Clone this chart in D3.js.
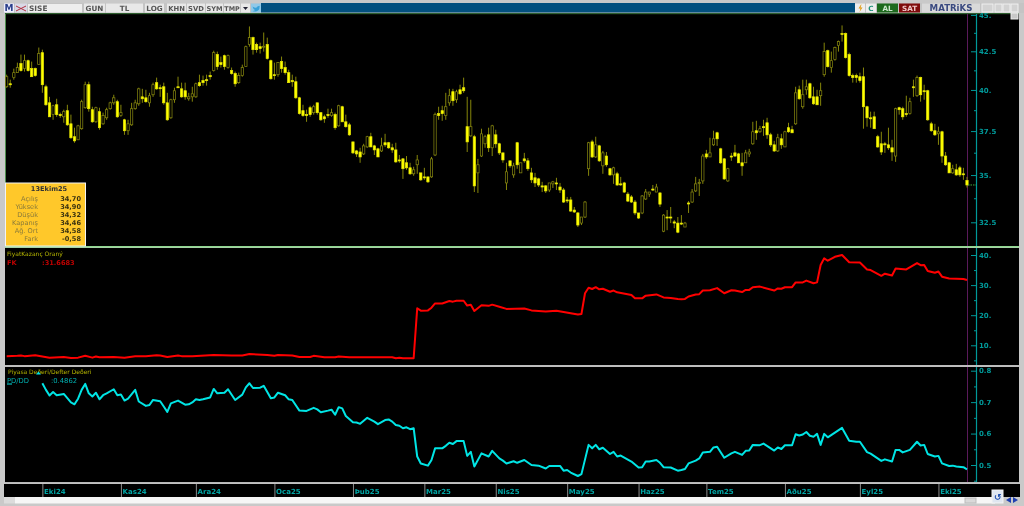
<!DOCTYPE html>
<html><head><meta charset="utf-8">
<script src="https://cdn.jsdelivr.net/npm/d3@7"></script>
<style>
html,body{margin:0;padding:0;background:#c9c9c9;overflow:hidden}
svg{display:block;filter:blur(0.4px)}
text{font-family:"DejaVu Sans",sans-serif;font-size:7px}
</style></head><body><svg id="c" width="1024" height="506"></svg>
<script>
const opens=[40.20,40.39,40.78,41.10,41.69,41.36,41.88,41.36,41.36,41.62,
42.41,40.20,39.20,38.48,39.08,38.48,38.35,38.72,37.93,37.17,
36.99,37.64,38.90,40.33,38.78,38.05,38.66,37.93,38.29,38.84,
39.20,39.27,38.42,38.17,37.52,37.87,38.84,39.14,39.57,39.51,
39.20,39.70,40.46,40.14,40.20,39.20,38.29,39.39,40.20,40.07,
39.95,39.45,39.57,39.57,40.46,40.59,40.65,40.91,41.23,42.28,
41.75,42.21,41.43,41.23,41.04,40.46,40.91,41.49,42.95,43.42,
42.95,42.81,42.81,42.95,41.88,40.97,40.97,41.82,41.43,41.10,
40.59,40.52,39.51,38.72,38.48,38.90,38.60,39.20,38.60,38.35,
38.48,38.42,38.48,37.81,38.96,38.05,37.87,36.87,36.35,36.29,
36.18,36.58,37.17,36.64,36.47,36.35,36.82,36.82,36.53,36.41,
35.84,35.90,35.68,35.40,35.07,35.57,35.12,34.90,34.90,34.90,
36.12,38.54,38.72,38.42,39.20,39.89,39.39,40.01,40.14,37.76,
37.22,37.17,35.12,36.06,36.76,37.28,36.53,37.28,36.76,36.24,
34.57,35.79,35.01,36.82,35.12,35.90,35.79,35.12,34.85,34.79,
34.41,34.41,34.19,34.52,34.57,34.35,34.19,33.66,33.66,33.13,
32.98,32.46,32.77,35.35,36.87,36.01,36.64,35.51,36.06,35.35,
35.01,35.07,34.52,34.57,33.97,33.82,33.55,32.98,32.98,33.71,
33.97,34.24,34.08,34.03,32.05,32.77,32.77,32.52,32.46,32.46,
32.26,33.50,33.55,34.14,34.57,34.68,36.18,36.01,36.70,37.40,
36.47,35.90,34.68,36.06,36.24,36.18,35.68,35.68,36.18,36.76,
37.52,37.46,37.76,37.99,37.28,36.70,36.35,37.05,36.58,37.70,
37.58,37.93,40.01,38.96,40.01,40.39,39.57,39.57,39.64,40.97,
42.54,41.43,41.95,42.88,43.70,43.70,42.28,40.91,40.91,40.84,
40.84,38.96,38.29,38.35,37.17,36.76,36.76,36.70,36.53,36.06,
38.90,38.84,38.54,38.54,40.20,39.64,40.78,39.95,39.95,37.93,
37.52,37.34,37.46,36.06,35.68,35.12,35.29,35.40,35.07,34.70];
const highs=[40.97,40.65,41.36,41.75,42.28,42.28,41.95,41.82,41.43,42.75,
42.61,40.33,39.57,39.08,39.45,38.60,38.78,39.08,38.48,37.70,
37.87,39.39,40.52,40.52,38.96,38.96,38.90,38.60,38.90,39.27,
39.70,39.39,39.08,38.23,38.17,39.20,39.39,40.14,40.07,40.01,
39.82,40.46,40.78,40.33,40.46,39.82,39.45,40.14,40.84,40.46,
40.46,39.82,40.20,40.46,40.97,40.91,40.97,41.17,42.54,42.48,
42.15,42.28,42.28,41.43,41.17,41.10,41.62,42.88,44.19,43.49,
43.08,43.08,43.77,43.42,41.95,41.75,41.75,42.15,41.82,41.29,
40.97,40.84,39.57,39.08,38.78,39.02,39.08,39.20,38.60,38.48,
38.84,38.84,38.60,39.08,39.02,38.48,37.99,36.87,36.41,36.53,
36.76,37.22,37.40,36.70,36.53,37.11,37.34,36.87,36.76,36.82,
36.12,35.95,36.06,35.68,35.46,36.12,35.12,35.40,34.90,36.01,
38.60,38.96,39.02,39.82,40.07,40.07,40.01,40.33,40.78,39.57,
39.39,37.28,35.90,37.64,37.28,37.70,37.87,37.58,36.82,36.24,
35.68,35.79,35.68,36.87,35.68,36.24,35.95,35.40,35.12,34.85,
34.63,34.46,34.57,34.68,34.85,34.57,34.30,33.82,33.82,33.29,
33.03,32.77,33.60,36.87,36.99,37.17,36.70,36.35,36.29,35.40,
35.46,35.18,34.90,34.63,34.08,33.92,33.66,32.98,33.92,34.24,
34.08,34.46,34.52,34.08,32.92,33.13,33.29,32.62,32.77,32.87,
32.52,33.60,34.24,34.90,34.79,36.18,36.41,37.11,37.52,37.46,
36.53,35.95,35.40,36.24,36.70,36.24,36.24,36.41,36.47,38.05,
38.11,37.81,38.17,38.29,37.40,36.93,37.34,37.34,37.52,37.99,
37.81,40.20,40.27,40.65,40.65,40.46,40.20,40.01,40.46,43.08,
42.61,42.48,42.81,43.22,44.26,43.77,42.41,41.04,41.04,41.10,
41.43,39.02,38.66,38.66,37.28,37.46,36.87,37.70,36.99,38.90,
38.96,38.96,39.64,39.51,40.65,40.91,40.84,40.33,40.01,38.05,
37.93,37.76,37.52,36.29,35.73,35.57,35.62,35.51,35.40,34.90];
const lows=[40.14,40.14,40.65,41.10,41.17,41.17,41.17,40.84,40.84,41.62,
39.82,39.02,38.35,38.17,38.35,38.29,37.99,37.81,37.05,36.82,
36.99,37.58,38.84,38.66,37.99,37.99,37.58,37.87,38.17,38.78,
39.08,38.29,38.35,37.28,37.28,37.81,38.78,39.02,39.20,39.20,
38.96,39.57,40.01,39.57,39.08,38.11,38.23,39.20,40.14,39.51,
39.39,39.33,39.27,39.51,40.20,40.27,40.27,40.65,41.17,41.29,
41.43,41.29,41.36,40.97,40.20,40.39,40.84,41.49,42.81,42.28,
42.41,42.35,42.48,41.95,40.65,40.65,40.84,41.10,40.97,40.46,
40.20,39.45,38.48,38.35,38.05,38.35,38.48,38.48,38.11,37.99,
38.29,38.35,37.58,37.76,38.05,37.70,37.22,36.18,36.01,35.68,
36.12,36.53,36.58,36.12,36.01,36.29,36.58,36.47,36.24,35.68,
35.68,34.79,35.29,35.01,34.96,35.07,34.68,34.74,34.57,34.85,
36.06,38.17,38.11,38.17,39.02,39.02,39.20,39.70,39.82,36.29,
37.17,34.08,34.03,36.01,36.53,36.29,36.06,36.53,36.12,35.68,
34.19,35.40,34.85,35.35,35.12,35.68,35.23,34.57,34.35,34.35,
34.08,34.03,34.08,34.30,34.19,34.03,33.50,33.50,33.03,32.98,
32.26,32.36,32.72,34.96,35.95,35.95,35.73,35.07,35.46,34.96,
34.52,34.41,34.41,34.03,33.55,33.50,32.87,32.67,32.92,33.66,
33.82,34.14,34.08,33.29,32.00,32.10,32.46,32.20,31.95,32.36,
32.26,32.98,33.50,34.08,33.87,34.52,35.90,36.01,36.64,36.64,
35.62,34.74,34.63,35.79,36.01,35.68,34.96,35.68,36.01,36.70,
36.99,37.40,37.22,37.05,36.58,36.29,36.29,36.47,36.58,37.40,
37.40,37.87,39.39,38.84,39.70,39.45,39.08,39.08,39.02,40.84,
41.43,41.10,41.88,42.48,43.15,42.02,40.84,40.46,40.46,40.46,
37.64,37.76,37.70,37.64,36.53,36.12,36.24,36.41,35.79,35.73,
38.48,38.17,38.35,38.48,39.57,39.57,39.27,39.39,38.11,37.46,
37.22,36.70,35.68,35.51,35.12,35.07,34.96,34.90,34.74,34.32];
const closes=[40.84,40.36,41.10,41.43,41.23,41.88,41.23,40.84,40.91,42.35,
40.33,39.08,38.35,39.02,38.48,38.45,38.66,37.87,37.11,36.93,
37.81,39.27,40.33,38.84,38.05,38.90,37.70,38.42,38.78,39.20,
39.51,38.35,38.60,37.52,37.93,38.84,39.20,40.07,39.45,39.27,
39.64,40.33,40.07,40.10,39.20,38.17,39.39,39.95,40.17,39.57,
39.57,39.57,39.76,40.39,40.27,40.46,40.59,40.84,42.41,41.49,
41.62,41.49,42.21,41.04,40.39,40.91,41.43,42.81,43.42,42.61,
42.61,42.68,42.84,42.02,40.71,40.91,41.75,41.36,41.10,40.46,
40.52,39.51,38.54,38.42,38.42,38.48,38.96,38.60,38.17,38.23,
38.45,38.60,37.70,39.02,38.05,37.76,37.28,36.24,36.18,36.01,
36.64,37.17,36.58,36.41,36.01,36.64,36.70,36.53,36.41,35.73,
35.79,35.35,35.40,35.07,35.29,35.84,34.74,34.85,34.63,35.90,
38.48,38.42,38.54,38.96,39.64,39.33,39.89,39.76,39.95,36.87,
37.76,34.41,35.57,37.34,37.17,36.53,37.81,36.76,36.24,35.84,
35.18,35.51,35.51,35.57,35.68,35.79,35.35,34.74,34.57,34.46,
34.35,34.14,34.57,34.63,34.52,34.19,33.55,33.63,33.08,33.03,
32.36,32.77,33.55,36.82,36.01,36.70,35.79,36.24,35.57,35.01,
35.40,34.46,34.49,34.08,33.60,33.55,32.98,32.72,33.87,34.08,
34.08,34.19,34.35,33.44,32.87,32.74,32.74,32.46,32.00,32.41,
32.46,33.47,34.08,34.52,34.60,36.06,36.01,36.24,37.05,37.05,
35.68,34.79,35.35,36.03,36.06,35.68,35.51,36.24,36.29,37.46,
37.40,37.64,37.70,37.28,36.70,36.35,37.11,36.70,37.46,37.46,
37.40,39.82,39.45,39.70,40.20,39.51,39.14,39.08,39.95,42.48,
41.49,41.88,42.75,43.15,43.67,42.08,40.91,40.78,40.78,40.59,
38.96,38.29,38.23,37.64,36.58,36.29,36.70,36.53,36.29,38.84,
38.78,38.35,38.48,39.27,40.17,40.78,39.70,39.92,38.17,37.52,
37.28,37.46,36.06,35.57,35.12,35.35,35.01,35.01,35.04,34.46];

const fkSessions=[0,3,4,5,8,12,16,18,20,22,24,25,26,30,33,36,39,42,43,45,48,49,52,58,63,66,68,73,75,76,80,82,85,86,89,92,93,
96,108,109,110,111,114,115,116,118,119,120,122,124,125,126,128,129,130,131,133,135,136,138,140,145,147,151,154,160,161,162,163,164,165,166,167,169,170,171,175,176,178,179,182,184,186,188,189,
190,191,193,194,195,197,199,201,203,204,206,207,208,209,211,215,216,217,218,220,221,223,224,226,227,228,229,230,232,234,236,239,241,242,245,246,248,249,252,255,256,257,258,260,261,262,264,268,269];
const fkValues=[6.4,6.5,6.6,6.4,6.7,5.9,6.1,5.8,5.9,6.5,5.9,6.3,6.0,6.1,5.9,6.4,6.4,6.7,6.6,6.1,6.6,6.4,6.4,6.8,6.6,6.6,7.1,6.8,6.5,6.8,6.6,6.1,6.1,6.5,6.0,6.0,6.3,
6.0,6.0,5.7,5.9,5.7,5.7,22.3,21.5,21.6,22.5,23.9,23.9,24.7,24.5,24.8,24.8,23.2,23.5,21.4,23.3,23.1,23.5,22.8,22.1,22.2,21.6,21.2,21.5,20.2,20.4,27.3,29.1,28.7,29.3,28.6,28.8,27.8,28.2,27.6,26.7,25.6,25.6,26.5,26.9,25.9,25.7,25.4,25.3,
25.4,26.2,26.9,27.0,28.2,28.3,29.0,27.3,28.3,28.2,27.7,28.4,28.4,29.3,29.5,28.2,28.9,28.8,29.3,29.3,30.9,30.9,31.5,30.6,30.9,36.7,38.9,38.1,39.4,40.0,37.6,37.5,35.2,35.0,33.1,33.8,33.2,35.5,35.2,37.3,36.6,36.7,34.7,34.1,34.5,32.8,32.2,32.0,31.67];

const pdSessions=[10,11,12,13,14,16,18,19,20,21,22,23,24,25,26,27,28,30,31,32,33,34,36,37,39,40,41,43,44,45,46,48,50,51,52,53,54,55,57,58,59,61,62,64,66,67,68,69,71,72,74,75,76,78,79,80,82,84,86,87,88,90,91,92,93,
94,95,97,98,99,101,103,104,106,107,108,109,110,111,112,113,114,115,116,118,119,120,122,123,124,125,126,128,129,130,131,133,135,136,138,139,140,142,143,145,147,149,151,152,155,156,157,158,160,161,163,164,165,166,167,169,170,171,172,175,177,178,179,180,182,183,184,186,188,189,
190,191,193,194,195,197,198,199,201,203,204,206,207,208,209,211,212,215,216,217,218,220,221,222,223,224,225,226,227,228,229,230,232,234,236,238,239,241,242,245,246,248,249,250,251,253,255,256,257,258,260,261,262,264,265,266,268,269];
const pdValues=[.760,.739,.721,.732,.722,.726,.699,.693,.711,.739,.758,.728,.718,.730,.709,.722,.728,.741,.722,.724,.705,.711,.739,.702,.688,.691,.707,.703,.686,.669,.696,.705,.692,.693,.699,.709,.707,.709,.715,.742,.728,.730,.741,.707,.724,.747,.760,.745,.746,.752,.712,.715,.730,.722,.709,.707,.673,.672,.682,.677,.668,.673,.676,.660,.684,
.680,.656,.636,.635,.631,.650,.638,.630,.643,.645,.638,.627,.625,.617,.620,.614,.617,.527,.505,.498,.516,.553,.553,.561,.571,.567,.576,.576,.529,.542,.495,.537,.527,.545,.521,.514,.505,.512,.507,.516,.500,.498,.489,.497,.497,.482,.484,.476,.465,.471,.564,.553,.564,.550,.555,.535,.542,.527,.530,.511,.492,.493,.511,.511,.516,.507,.493,.492,.482,.484,
.487,.505,.514,.521,.540,.542,.556,.558,.523,.537,.542,.532,.545,.546,.564,.563,.568,.546,.556,.551,.563,.563,.598,.594,.597,.605,.593,.590,.599,.564,.599,.588,.603,.618,.577,.574,.574,.541,.536,.513,.518,.511,.548,.548,.540,.548,.574,.562,.564,.535,.527,.529,.505,.497,.498,.495,.493,.4862];

const priceTicks=[45,42.5,40,37.5,35,32.5];
const priceTickLabels=["45.","42.5","40.","37.5","35.","32.5"];
const priceMinorTicks=[43.75,41.25,38.75,36.25,33.75];
const fkTicks=[40,30,20,10];
const fkTickLabels=["40.","30.","20.","10."];
const fkMinorTicks=[35,25,15,5];
const pdTicks=[.8,.7,.6,.5];
const pdTickLabels=["0.8","0.7","0.6","0.5"];
const pdMinorTicks=[.75,.65,.55,.45];
const monthSessions=[10,32,53,75,97,117,137,157,177,196,218,239,261];
const monthLabels=["Eki24","Kas24","Ara24","Oca25","Þub25","Mar25","Nis25","May25","Haz25","Tem25","Aðu25","Eyl25","Eki25"];
const infoTitle="13Ekim25";
const infoLabels=["Açılış","Yüksek","Düşük","Kapanış","Ağ. Ort","Fark"];
const infoValues=["34,70","34,90","34,32","34,46","34,58","-0,58"];

const svg=d3.select("#c");
const R=(x,y,w,h,f,s)=>svg.append("rect").attr("x",x).attr("y",y).attr("width",w).attr("height",h).attr("fill",f).attr("stroke",s||"none");
const T=(x,y,t,f,o={})=>svg.append("text").attr("x",x).attr("y",y).text(t).attr("fill",f).attr("text-anchor",o.a||"start").style("font-weight",o.w||"normal").style("font-size",(o.s||7)+"px");

const X=d3.scaleLinear().domain([0,269]).range([6.67,967]);
const yP=d3.scaleLog().domain([32.5,42.5]).range([222.3,51.3]);
const yF=d3.scaleLinear().domain([10,40]).range([345.3,255]);
const yD=d3.scaleLinear().domain([.5,.8]).range([465,370.7]);

// panes
R(0,0,1024,506,"#c9c9c9");
R(5,14,1014,232,"#000");
R(5,248,1014,117,"#000");
R(5,367,1014,115,"#000");
R(4,484,1016,13,"#000");
R(5,13,1014,1.2,"#2f5f2f");
R(5,246,1014,1.6,"#8fd88f");
R(5,14,1,232,"#4f8f4f");
R(5,365.2,1014,1.4,"#b8b8b8");
R(5,482,1014,1.4,"#b8b8b8");
R(15,497,980,6.5,"#f6f6f6");
R(4,497,11,6.5,"#dcdcdc");

const defs=svg.append("defs");
[["p",14,232],["f",248,117],["d",367,115]].forEach(([n,y,h])=>defs.append("clipPath").attr("id","cl"+n).append("rect").attr("x",5).attr("y",y).attr("width",965).attr("height",h));

// vertical guides
[[14,246],[248,365],[367,482]].forEach(([a,b])=>{
 svg.append("line").attr("x1",967.5).attr("x2",967.5).attr("y1",a).attr("y2",b).attr("stroke","#5a1a5a");
 svg.append("line").attr("x1",976.5).attr("x2",976.5).attr("y1",a).attr("y2",b).attr("stroke","#009a9a").attr("stroke-width",1.2);
});

// candles
const candles=d3.range(opens.length);
const gc=svg.append("g").attr("clip-path","url(#clp)");
gc.selectAll("line.w").data(candles).join("line").attr("class","w")
 .attr("x1",i=>X(i)).attr("x2",i=>X(i)).attr("y1",i=>yP(highs[i])).attr("y2",i=>yP(lows[i]))
 .attr("stroke","#86860a").attr("stroke-width",1);
gc.selectAll("rect.b").data(candles).join("rect").attr("class","b")
 .attr("x",i=>X(i)-1.15).attr("width",2.3)
 .attr("y",i=>yP(Math.max(opens[i],closes[i])))
 .attr("height",i=>Math.max(1,Math.abs(yP(opens[i])-yP(closes[i]))))
 .attr("fill",i=>closes[i]>=opens[i]?"#000":"#ffff00")
 .attr("stroke",i=>closes[i]>=opens[i]?"#8a8a10":"#e8e800")
 .attr("stroke-width",.7);

// lines
const ln=(xs,ys,y,c,clip)=>svg.append("path").attr("clip-path","url(#cl"+clip+")")
 .attr("d",d3.line().x((_,k)=>X(xs[k])).y((v)=>y(v))(ys)).attr("fill","none").attr("stroke",c).attr("stroke-width",2).attr("stroke-linejoin","round");
ln(fkSessions,fkValues,yF,"#ff0000","f");
ln(pdSessions,pdValues,yD,"#00e5e5","d");

// right axes
function axis(y,ticks,labels,minor){
 const g=svg.append("g").attr("transform","translate(976.5,0)");
 g.call(d3.axisRight(y).tickValues(ticks).tickFormat((_,k)=>labels[k]).tickSize(0).tickPadding(2.5));
 g.select(".domain").remove();
 g.selectAll(".tick line").attr("x1",-5.5).attr("x2",0).attr("stroke","#009a9a");
 g.selectAll(".tick text").attr("fill","#009a9a").style("font-size","7px").style("font-weight","bold").style("font-family",'"DejaVu Sans",sans-serif');
 const m=svg.append("g").attr("transform","translate(976.5,0)");
 m.call(d3.axisRight(y).tickValues(minor).tickFormat("").tickSize(0));
 m.select(".domain").remove();
 m.selectAll(".tick line").attr("x1",-2.5).attr("x2",0).attr("stroke","#009a9a");
}
axis(yP,priceTicks,priceTickLabels,priceMinorTicks);
axis(yF,fkTicks,fkTickLabels,fkMinorTicks);
axis(yD,pdTicks,pdTickLabels,pdMinorTicks);

// last price dash
svg.append("line").attr("x1",968).attr("x2",976).attr("y1",yP(closes[269])).attr("y2",yP(closes[269])).attr("stroke","#3fae3f").attr("stroke-dasharray","1.5 1");

// month axis
const gx=svg.append("g").attr("transform","translate(0,484)");
gx.call(d3.axisBottom(X).tickValues(monthSessions).tickFormat((_,k)=>monthLabels[k]).tickSize(13).tickPadding(0));
gx.select(".domain").remove();
gx.selectAll(".tick line").attr("stroke","#8a8a8a");
gx.selectAll(".tick text").attr("text-anchor","start").attr("x",1.2).attr("y",5).attr("fill","#00a5a5").style("font-size","7px").style("font-family",'"DejaVu Sans",sans-serif').style("font-weight","bold");

// pane labels
T(7,256,"FiyatKazanç Oraný","#b4b400",{s:6});
T(7,264.5,"FK","#c00000",{s:6.6,w:"bold"});
T(42,264.5,":31.6683","#c00000",{s:6.6,w:"bold"});
T(8,373.6,"Piyasa Deðeri/Defter Deðeri","#b4b400",{s:6});
T(7,382.5,"PD/DD","#00b0b0",{s:6.8});
T(51,382.5,":0.4862","#00b0b0",{s:6.8});
svg.append("path").attr("d","M36 374.5l2.5-3 2.5 3z").attr("fill","#00e5e5");
svg.append("path").attr("d","M7 384h5").attr("stroke","#00e5e5");

// info box
R(5.5,183,80,63,"#ffc82a","#f4f4f4");
T(49,191,infoTitle,"#333",{a:"middle",w:"bold",s:6.6});
infoLabels.forEach((l,k)=>{
 T(38,201+k*8.05,l,"#8a7a3a",{a:"end",s:6.6});
 T(81,201+k*8.05,infoValues[k],"#3a3210",{a:"end",w:"bold",s:6.6});
});

// toolbar
R(0,3,1024,10,"#c4c4c4");
R(261,3,594,9.5,"#03507f");
const btn=(x,w,t,c,b,sz)=>{R(x,3.5,w,9,b||"#e8e8e8");if(t)T(x+w/2,11,t,c||"#555",{a:"middle",w:"bold",s:sz||7.2});};
btn(4,10,"M","#2a3f8a","#eef",9);
btn(15,12,"","", "#d9d9e6");
svg.append("path").attr("d","M16 6l10 5M16 11l10-5").attr("stroke","#b03040").attr("fill","none");
R(28,4,54,8.5,"#eeeeee");T(29,11,"SISE","#555",{w:"bold",s:7.4});
btn(84,21,"GUN");btn(106,37,"TL");btn(145,19,"LOG");btn(167,19,"KHN",null,null,6.8);btn(187,18,"SVD",null,null,6.8);btn(206,17,"SYM",null,null,6.6);btn(224,16,"TMP",null,null,6.4);btn(241,9,"");
svg.append("path").attr("d","M243 7h5l-2.5 3z").attr("fill","#223");
btn(251,10,"","", "#8fc8e8");
svg.append("path").attr("d","M252.5 6.5q3 2 4 1q1-2 3-1.5l1-.5-1 1q.5 4-3.5 5q-2 .2-3.5-.5q2 0 2.5-1q-2-1-2.5-3.5z").attr("fill","#38a1d8");
btn(855,10,"","", "#eee");
svg.append("path").attr("d","M861 4.5l-2.5 4h2l-1 3.5 3-4.5h-2l1-3z").attr("fill","#e09a10");
btn(866,10,"C","#20907a","#eee");
btn(877,21,"AL","#cfe8cf","#1d6a1d");
btn(899,21,"SAT","#f0c8c8","#7f0c0c");
btn(922,58,"MATRiKS","#3b4a80","#d9d9d9",8.6);
[982,995,1003,1011].forEach((x,k)=>R(x,4,k?7:11,8,"#d2d2d2","#f0f0f0"));
R(1011,13,7,6,"#c8c8c8","#eee");
R(992,490,11,13,"#dfe6f0","#f4f4f4");
svg.append("text").attr("x",994).attr("y",500).text("↺").attr("fill","#2050b0").style("font-size","9px").style("font-weight","bold");
svg.append("path").attr("d","M1011 497v6l-5-3zM1013 497v6l5-3z").attr("fill","#1f3fb0");
R(965,498,11,5,"#d9d9d9","#bbb");
</script></body></html>
